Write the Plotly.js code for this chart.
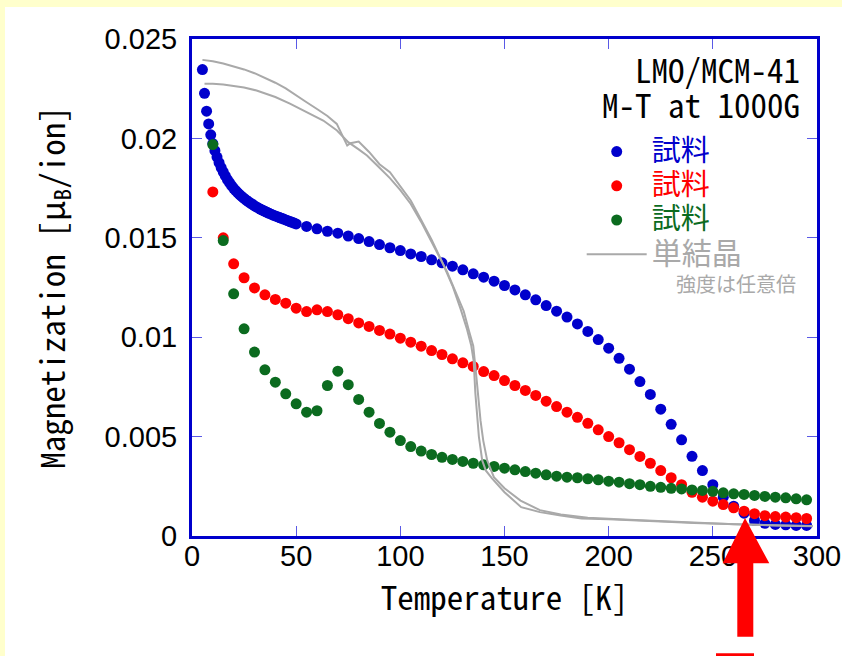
<!DOCTYPE html>
<html><head><meta charset="utf-8">
<script src="https://cdn.plot.ly/plotly-3.0.1.min.js"></script>
<style>
html,body{margin:0;padding:0;background:#ffffcc;width:842px;height:656px;overflow:hidden}
#chart{position:absolute;left:5px;top:7px;width:837px;height:649px;background:#fff}
</style></head><body><div id="chart"></div>
<script>
// ---- data ----
var blueT = [5,6,7,8,9,10,11,12,13,14,15,16,17,18,19,20,21,22,23,24,25,26,27,28,29,30,31,32,33,34,35,36,37,38,39,40,41,42,43,44,45,46,47,48,49,50,
  55,60,65,70,75,80,85,90,95,100,105,110,115,120,125,130,135,140,145,150,155,160,165,170,175,180,185,190,195,200,205,210,215,220,225,230,235,240,245,250,255,260,265,270,275,280,285,290,295];
var blueM = [0.02346,0.02227,0.02137,0.02073,0.02018,0.01974,0.01938,0.01906,0.01878,0.01853,0.01831,0.01811,0.01793,0.01777,0.01762,0.01749,0.01737,0.01726,0.01716,0.01707,0.01698,0.0169,0.01682,0.01675,0.01668,0.01661,0.01655,0.01649,0.01643,0.01638,0.01633,0.01628,0.01623,0.01619,0.01614,0.0161,0.01606,0.01602,0.01598,0.01594,0.0159,0.01586,0.01582,0.01578,0.01574,0.0157,
  0.01557,0.01545,0.01533,0.01523,0.01509,0.01496,0.01481,0.01466,0.0145,0.01436,0.01419,0.01406,0.01389,0.01374,0.01357,0.01339,0.01319,0.01302,0.01282,0.0126,0.01238,0.01213,0.01188,0.01159,0.01131,0.01101,0.01067,0.01029,0.00988,0.00945,0.00894,0.00839,0.00777,0.00712,0.00638,0.00562,0.00484,0.00401,0.00329,0.00258,0.00195,0.0015,0.00115,0.00078,0.00064,0.00058,0.00056,0.00053,0.00053];

var redT = [10,15,20,25,30,35,40,45,50,55,60,65,70,75,80,85,90,95,100,105,110,115,120,125,130,135,140,145,150,155,160,165,170,175,180,185,190,195,200,205,210,215,220,225,230,235,240,245,250,255,260,265,270,275,280,285,290,295];
var redM = [0.01731,0.015,0.01369,0.01299,0.01248,0.01213,0.0119,0.01171,0.01146,0.01129,0.01138,0.01129,0.01113,0.01093,0.01072,0.01054,0.01034,0.01016,0.00995,0.00975,0.00955,0.00933,0.00913,0.00891,0.00871,0.00853,0.00827,0.00807,0.00782,0.00757,0.00732,0.00707,0.00678,0.00651,0.00623,0.00597,0.00567,0.00534,0.005,0.00469,0.00434,0.004,0.00366,0.00329,0.00293,0.00258,0.0022,0.00195,0.00175,0.00158,0.00142,0.00125,0.00112,0.00102,0.00098,0.00095,0.00092,0.00088];

var greenT = [10,15,20,25,30,35,40,45,50,55,60,65,70,75,80,85,90,95,100,105,110,115,120,125,130,135,140,145,150,155,160,165,170,175,180,185,190,195,200,205,210,215,220,225,230,235,240,245,250,255,260,265,270,275,280,285,290,295];
var greenM = [0.01969,0.01486,0.01218,0.01042,0.00925,0.00836,0.00774,0.00715,0.00665,0.00623,0.0063,0.00757,0.00829,0.00761,0.00687,0.00623,0.00566,0.00522,0.0048,0.0045,0.00427,0.0041,0.00396,0.00385,0.00375,0.00366,0.00358,0.0035,0.00341,0.00333,0.00324,0.00316,0.00308,0.00301,0.00296,0.00293,0.00288,0.00283,0.00276,0.00271,0.00263,0.00258,0.0025,0.00245,0.0024,0.00237,0.00232,0.00229,0.00225,0.00217,0.00212,0.00209,0.00204,0.00199,0.00195,0.00192,0.00187,0.00182];

// single crystal (arbitrary scale), two branches
var crystalT_A = [5,10,15,20,25,30,35,40,45,50,55,60,65,69.5,72.5,74.5,76,80,85,90,95,100,105,110,115,120,125,129,132,134,135.2,136,137,137.7,139.3,141,144,150,158,167,177,187,200,210,225,241,260,280,298];
var crystalM_A = [0.02395,0.02388,0.02377,0.02363,0.02347,0.02328,0.02306,0.0228,0.02252,0.02215,0.02182,0.02148,0.02113,0.02073,0.02005,0.01964,0.01976,0.01984,0.01932,0.0187,0.0183,0.0176,0.01688,0.0159,0.0149,0.0138,0.0126,0.0114,0.0104,0.0096,0.0088,0.0072,0.0058,0.005,0.0038,0.0033,0.0029,0.0022,0.00145,0.0012,0.00103,0.00088,0.00084,0.00081,0.00073,0.00066,0.00058,0.00053,0.00049];
var crystalT_B = [6,10,15,20,25,31,35,40,47,52,57,63,69.6,75,80,84,90,95,100,105,110,115,122.4,126,130.4,133,135,136.5,138.5,139.8,141.7,144.9,150,157.7,167,177,190,210,241,260,280,298];
var crystalM_B = [0.02275,0.02275,0.02271,0.02265,0.02256,0.02241,0.02228,0.02208,0.02175,0.02148,0.02122,0.0209,0.0204,0.01981,0.01945,0.01914,0.01852,0.018,0.0174,0.0167,0.0158,0.0148,0.0133,0.0124,0.01132,0.0103,0.00956,0.008,0.0058,0.0048,0.0038,0.00296,0.0024,0.00178,0.0013,0.00108,0.00092,0.00082,0.00067,0.00059,0.00054,0.0005];

var xTicks = [0,50,100,150,200,250,300];
var yTicks = [0,0.005,0.01,0.015,0.02,0.025];
var yTickText = ['0','0.005','0.01','0.015','0.02','0.025'];

var seriesName = '試料';
var crystalName = '単結晶';
var crystalNote = '強度は任意倍';

// ---- styles ----
var BLUE = '#0000cc', RED = '#ff0000', GREEN = '#0b6b1f', GRAY = '#a9a9a9';
var MONO = '"Noto Sans Mono CJK JP", "DejaVu Sans Mono", monospace';
var CJK = '"Noto Sans CJK JP", sans-serif';
var SANS = '"Liberation Sans", Arial, sans-serif';

// plot geometry (pixel -> paper helpers for decorations)
var M = {l:187, r:25, t:32, b:120};
var W = 837, H = 649;
var PW = W - M.l - M.r, PH = H - M.t - M.b;
var ox = 5, oy = 7; // div offset in window
function px(x){ return (x - ox - M.l) / PW; }
function py(y){ return (oy + M.t + PH - y) / PH; }

function mk(name, color, T, V){
  return {x:T, y:V, type:'scatter', mode:'markers', name:'<span style="font-size:29px;color:'+color+'">'+name+'</span>',
    marker:{color:color, size:11, line:{width:0}}, cliponaxis:false};
}
var traces = [
  mk(seriesName, BLUE, blueT, blueM),
  mk(seriesName, RED, redT, redM),
  mk(seriesName, GREEN, greenT, greenM),
  {x: crystalT_A.concat([null], crystalT_B), y: crystalM_A.concat([null], crystalM_B), type:'scatter', mode:'lines',
   name:'<span style="font-size:30px;color:'+GRAY+'">'+crystalName+'</span>', line:{color:GRAY, width:2}, connectgaps:false}
];

var arrowPath = 'M ' + px(722.7) + ',' + py(563.3) + ' L ' + px(745) + ',' + py(518) + ' L ' + px(769.3) + ',' + py(563.3) +
  ' L ' + px(753.3) + ',' + py(563.3) + ' L ' + px(753.3) + ',' + py(636.7) + ' L ' + px(737.3) + ',' + py(636.7) +
  ' L ' + px(737.3) + ',' + py(563.3) + ' Z';

var layout = {
  width: W, height: H,
  margin: M,
  paper_bgcolor:'#ffffff', plot_bgcolor:'#ffffff',
  showlegend:true,
  legend:{x:px(581.7), y:py(129.5), xanchor:'left', yanchor:'top', bgcolor:'rgba(0,0,0,0)', borderwidth:0,
    itemwidth:60, font:{family:CJK, size:24, color:'#000'}, traceorder:'normal'},
  xaxis:{range:[0,300], tickvals:xTicks, ticktext:xTicks.map(String), ticks:'inside', ticklen:10, tickwidth:1, tickcolor:'#5a5ae6',
    showline:true, linecolor:BLUE, linewidth:3, mirror:'ticks', showgrid:false, zeroline:false,
    tickfont:{family:SANS, size:29, color:'#000'}, ticklabelstandoff:-8,
    title:{text:'Temperature [K]', font:{family:MONO, size:33, color:'#000'}, standoff:16}},
  yaxis:{range:[0,0.025], tickvals:yTicks, ticktext:yTickText, ticks:'inside', ticklen:10, tickwidth:1, tickcolor:'#5a5ae6',
    showline:true, linecolor:BLUE, linewidth:3, mirror:'ticks', showgrid:false, zeroline:false,
    tickfont:{family:SANS, size:29, color:'#000'}, ticklabelstandoff:6,
    title:{text:'Magnetization [μ<sub>B</sub>/ion]', font:{family:MONO, size:33, color:'#000'}, standoff:30}},
  annotations:[
    {xref:'paper', yref:'paper', x:px(802), y:py(69), xanchor:'right', yanchor:'middle', showarrow:false,
     text:'LMO/MCM-41', font:{family:MONO, size:33, color:'#000'}},
    {xref:'paper', yref:'paper', x:px(802), y:py(104), xanchor:'right', yanchor:'middle', showarrow:false,
     text:'M-T at 1000G', font:{family:MONO, size:33, color:'#000'}},
    {xref:'paper', yref:'paper', x:px(798), y:py(283), xanchor:'right', yanchor:'middle', showarrow:false,
     text:crystalNote, font:{family:CJK, size:20, color:GRAY}}
  ],
  shapes:[
    {type:'path', xref:'paper', yref:'paper', path:arrowPath, fillcolor:RED, line:{width:0}, layer:'above'},
    {type:'rect', xref:'paper', yref:'paper', x0:px(716), x1:px(754), y0:py(653.3), y1:py(662), fillcolor:RED, line:{width:0}, layer:'above'}
  ]
};

Plotly.newPlot('chart', traces, layout, {displayModeBar:false, staticPlot:true});
</script></body></html>
